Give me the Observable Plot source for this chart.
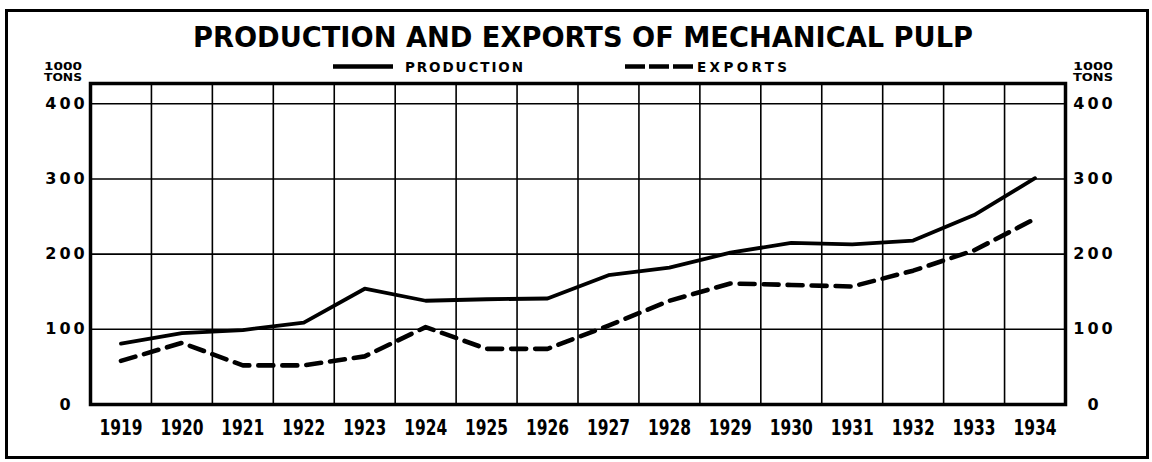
<!DOCTYPE html>
<html>
<head>
<meta charset="utf-8">
<script src="https://cdn.jsdelivr.net/npm/d3@7"></script>
<script src="https://cdn.jsdelivr.net/npm/@observablehq/plot@0.6"></script>
<style>
  html, body { margin: 0; padding: 0; background: #fff; }
  body { width: 1152px; height: 462px; position: relative; overflow: hidden; }
  #header { position: absolute; left: 0; top: 0; z-index: 2; overflow: visible; }
  #border { position: absolute; left: 5px; top: 9px; width: 1144px; height: 450px; border: 3px solid #000; box-sizing: border-box; z-index: 3; pointer-events: none; }
  #chart { padding-top: 70px; }
  #chart svg g[aria-label="y-axis tick label"] text { letter-spacing: 3px; }
</style>
</head>
<body>
<div id="border"></div>
<svg id="header" width="1152" height="90" xmlns="http://www.w3.org/2000/svg" font-family="'DejaVu Sans', sans-serif" font-weight="bold">
  <text x="583" y="47" text-anchor="middle" font-size="28" textLength="780" lengthAdjust="spacingAndGlyphs">PRODUCTION AND EXPORTS OF MECHANICAL PULP</text>
  <line x1="333" x2="393" y1="66.5" y2="66.5" stroke="#000" stroke-width="4.5"></line>
  <text x="405" y="71.5" font-size="13.5" textLength="118" lengthAdjust="spacing">PRODUCTION</text>
  <line x1="625" x2="693" y1="66.5" y2="66.5" stroke="#000" stroke-width="4.5" stroke-dasharray="20,4"></line>
  <text x="697" y="71.5" font-size="13.5" textLength="90" lengthAdjust="spacing">EXPORTS</text>
  <text x="63" y="70" text-anchor="middle" font-size="11" textLength="38" lengthAdjust="spacingAndGlyphs">1000</text>
  <text x="63" y="81" text-anchor="middle" font-size="11" textLength="38" lengthAdjust="spacingAndGlyphs">TONS</text>
  <text x="1093" y="70" text-anchor="middle" font-size="11" textLength="40" lengthAdjust="spacingAndGlyphs">1000</text>
  <text x="1093" y="81" text-anchor="middle" font-size="11" textLength="40" lengthAdjust="spacingAndGlyphs">TONS</text>
</svg>
<div id="chart"></div>
<script>
const years = [1919, 1920, 1921, 1922, 1923, 1924, 1925, 1926, 1927, 1928, 1929, 1930, 1931, 1932, 1933, 1934];
const production = [81, 95, 99, 109, 154, 138, 140, 141, 172, 182, 202, 215, 213, 218, 252, 301];
const exportsSeries = [58, 82, 52, 52, 64, 103, 74, 74, 105, 138, 161, 159, 157, 178, 205, 247];
const yTicks = [0, 100, 200, 300, 400];

const data = years.map((year, i) => ({year, production: production[i], exports: exportsSeries[i]}));
const boundaries = years.slice(1).map(y => y - 0.5);

const tickFont = "'DejaVu Sans', sans-serif";
const yearFont = "'DejaVu Sans Condensed', 'DejaVu Sans', sans-serif";

const chart = Plot.plot({
  width: 1152,
  height: 392,
  marginTop: 13,
  marginBottom: 58,
  marginLeft: 90,
  marginRight: 87,
  x: {domain: [years[0] - 0.5, years[years.length - 1] + 0.5]},
  y: {domain: [0, 427]},
  style: {background: "transparent", color: "#000", overflow: "visible"},
  marks: [
    Plot.ruleY(yTicks.filter(d => d > 0), {stroke: "#000", strokeWidth: 1.6}),
    Plot.ruleX(boundaries, {stroke: "#000", strokeWidth: 1.6}),
    Plot.line(data, {x: "year", y: "production", stroke: "#000", strokeWidth: 3.8}),
    Plot.line(data, {x: "year", y: "exports", stroke: "#000", strokeWidth: 4.6, strokeDasharray: "15,9"}),
    Plot.frame({stroke: "#000", strokeWidth: 3.5}),
    Plot.axisX(years, {anchor: "bottom", tickSize: 0, tickPadding: 15, tickFormat: d => String(d), fontSize: 22, fontWeight: "bold", fontFamily: yearFont, label: null}),
    Plot.axisY(yTicks, {anchor: "left", tickSize: 0, tickPadding: 24, textAnchor: "middle", fontSize: 16, fontWeight: "bold", fontFamily: tickFont, label: null}),
    Plot.axisY(yTicks, {anchor: "right", tickSize: 0, tickPadding: 29, textAnchor: "middle", fontSize: 16, fontWeight: "bold", fontFamily: tickFont, label: null})
  ]
});
chart.querySelectorAll('g[aria-label="x-axis tick label"] text').forEach(t => {
  t.setAttribute("textLength", "43");
  t.setAttribute("lengthAdjust", "spacingAndGlyphs");
});
document.getElementById("chart").appendChild(chart);
</script>
</body>
</html>
